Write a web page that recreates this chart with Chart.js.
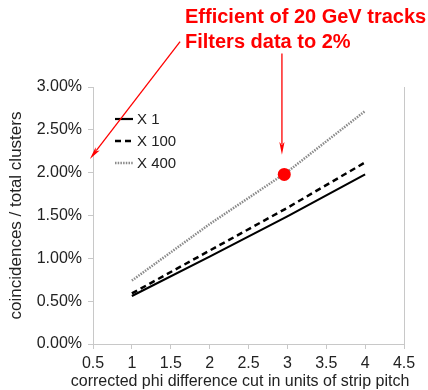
<!DOCTYPE html>
<html>
<head>
<meta charset="utf-8">
<script src="https://cdn.jsdelivr.net/npm/chart.js@4/dist/chart.umd.min.js"></script>
<style>
html,body{margin:0;padding:0;background:#fff;}
#wrap{width:428px;height:390px;position:relative;}
</style>
</head>
<body>
<div id="wrap"><canvas id="c" width="428" height="390"></canvas></div>
<script>
// ---- data ----
const cuts = [1, 2, 3, 4];
const seriesNames = ['X 1', 'X 100', 'X 400'];
const x1Values = [0.56, 1.02, 1.49, 1.98];
const x100Values = [0.59, 1.09, 1.59, 2.12];
const x400Values = [0.74, 1.40, 2.01, 2.72];
const markedPoint = [{x: 2.96, y: 1.98}];
const xTicks = [0.5, 1, 1.5, 2, 2.5, 3, 3.5, 4, 4.5];
const yTicks = [0, 0.5, 1, 1.5, 2, 2.5, 3];
const xAxisTitle = 'corrected phi difference cut in units of strip pitch';
const yAxisTitle = 'coincidences / total clusters';
const annotationLines = ['Efficient of 20 GeV tracks', 'Filters data to 2%'];
// arrows in data coordinates (start -> tip)
const arrowStarts = [{x: 1.62, y: 3.53}, {x: 2.93, y: 3.39}];
const arrowTips = [{x: 0.46, y: 2.16}, {x: 2.93, y: 2.21}];

const toPts = vals => vals.map((v, i) => ({x: cuts[i], y: v}));

const annotationPlugin = {
  id: 'annot',
  afterDatasetsDraw(chart) {
    const ctx = chart.ctx;
    const xs = chart.scales.x, ys = chart.scales.y;
    const area = chart.chartArea;
    ctx.save();
    // x axis title (drawn without width compression)
    ctx.fillStyle = '#222';
    ctx.font = '16px "Liberation Sans", Arial, sans-serif';
    ctx.textAlign = 'center';
    ctx.textBaseline = 'middle';
    ctx.fillText(xAxisTitle, 240, 382);
    // legend inside plot
    const legendDs = chart.data.datasets.filter(d => d.inLegend);
    ctx.font = '15px "Liberation Sans", Arial, sans-serif';
    ctx.textBaseline = 'middle';
    ctx.textAlign = 'left';
    legendDs.forEach((d, i) => {
      const y = area.top + 32 + i * 22;
      const x0 = area.left + 22;
      ctx.beginPath();
      ctx.strokeStyle = d.borderColor;
      ctx.lineWidth = d.borderWidth;
      ctx.setLineDash(d.borderDash || []);
      ctx.moveTo(x0, y);
      ctx.lineTo(x0 + 18, y);
      ctx.stroke();
      ctx.setLineDash([]);
      ctx.fillStyle = '#222';
      ctx.fillText(d.label, x0 + 22, y + 1);
    });
    // red text
    ctx.fillStyle = '#ff0000';
    ctx.font = 'bold 20px "Liberation Sans", Arial, sans-serif';
    ctx.textBaseline = 'alphabetic';
    annotationLines.forEach((t, i) => ctx.fillText(t, 185, 23 + i * 25));
    // arrows
    ctx.strokeStyle = '#ff0000';
    ctx.lineWidth = 1.3;
    arrowStarts.forEach((s, i) => {
      const t = arrowTips[i];
      const sx = xs.getPixelForValue(s.x), sy = ys.getPixelForValue(s.y);
      const tx = xs.getPixelForValue(t.x), ty = ys.getPixelForValue(t.y);
      const ang = Math.atan2(ty - sy, tx - sx);
      const len = 13, half = 0.2;
      ctx.beginPath();
      ctx.moveTo(sx, sy);
      ctx.lineTo(tx - Math.cos(ang) * len * 0.8, ty - Math.sin(ang) * len * 0.8);
      ctx.stroke();
      ctx.beginPath();
      ctx.moveTo(tx, ty);
      ctx.lineTo(tx - len * Math.cos(ang - half), ty - len * Math.sin(ang - half));
      ctx.lineTo(tx - len * 0.75 * Math.cos(ang), ty - len * 0.75 * Math.sin(ang));
      ctx.lineTo(tx - len * Math.cos(ang + half), ty - len * Math.sin(ang + half));
      ctx.closePath();
      ctx.fillStyle = '#ff0000';
      ctx.fill();
    });
    ctx.restore();
  }
};

const axisGray = '#c8c8c8';
const font = {family: '"Liberation Sans", Arial, sans-serif', size: 16};

new Chart(document.getElementById('c'), {
  type: 'scatter',
  data: {
    datasets: [
      {label: seriesNames[0], inLegend: true, data: toPts(x1Values), showLine: true, borderColor: '#000', borderWidth: 2.2, pointRadius: 0, fill: false},
      {label: seriesNames[1], inLegend: true, data: toPts(x100Values), showLine: true, borderColor: '#000', borderWidth: 2.5, borderDash: [6, 4], pointRadius: 0, fill: false},
      {label: seriesNames[2], inLegend: true, data: toPts(x400Values), showLine: true, borderColor: '#8a8a8a', borderWidth: 2.5, borderDash: [1.5, 1.2], pointRadius: 0, fill: false},
      {label: 'mark', order: -1, data: markedPoint, pointRadius: 6.5, pointBorderWidth: 0, pointBackgroundColor: '#ff0000', pointBorderColor: '#ff0000', showLine: false}
    ]
  },
  options: {
    responsive: false,
    animation: false,
    events: [],
    layout: {padding: {top: 87, right: 24, left: 0, bottom: 0}},
    plugins: {legend: {display: false}, tooltip: {enabled: false}, title: {display: false}},
    scales: {
      x: {
        type: 'linear', min: 0.5, max: 4.5,
        afterBuildTicks: s => { s.ticks = xTicks.map(v => ({value: v})); },
        afterFit: s => { s.height = 46; },
        border: {color: axisGray, width: 1},
        grid: {
          color: c => (c.tick && c.tick.value === 4.5) ? axisGray : 'rgba(0,0,0,0)',
          tickColor: axisGray, tickLength: 5, lineWidth: 1
        },
        ticks: {color: '#222', font: font, padding: 5, maxRotation: 0, autoSkip: false,
          callback: v => String(v)},
        title: {display: false}
      },
      y: {
        type: 'linear', min: 0, max: 3,
        afterBuildTicks: s => { s.ticks = yTicks.map(v => ({value: v})); },
        afterFit: s => { s.width = 93; },
        border: {color: axisGray, width: 1},
        grid: {color: 'rgba(0,0,0,0)', tickColor: axisGray, tickLength: 5, lineWidth: 1},
        ticks: {color: '#222', font: font, padding: 6, callback: v => v.toFixed(2) + '%'},
        title: {display: true, text: yAxisTitle, color: '#222',
          font: {family: font.family, size: 17}, padding: {top: 6, bottom: 0}}
      }
    }
  },
  plugins: [annotationPlugin]
});
</script>
</body>
</html>
